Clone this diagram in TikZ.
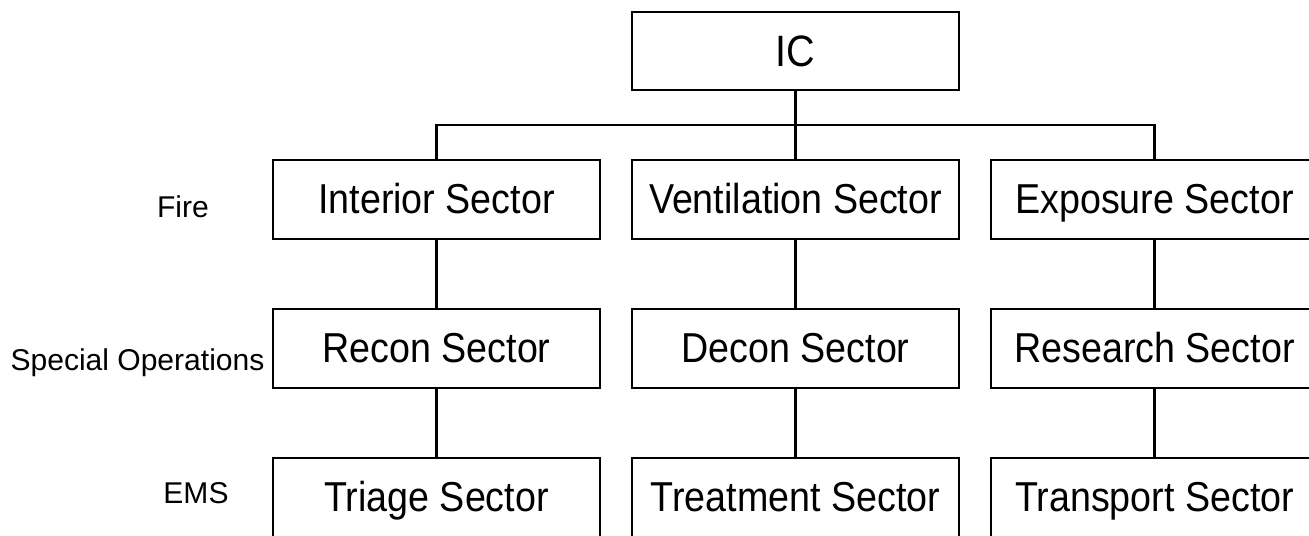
\documentclass[tikz,border=0pt]{standalone}
\usepackage{fontspec}
\setmainfont{Liberation Sans}
\newfontfamily\sectorfont[FakeStretch=0.9]{Liberation Sans}
\usetikzlibrary{positioning}

\begin{document}
\begin{tikzpicture}[
    node distance=1.4cm and 0.64cm,
    sector/.style={draw, line width=1.4pt, outer sep=0pt, minimum width=6.54cm, minimum height=1.58cm, inner sep=0pt,
                   text height=0.54cm, text depth=0pt, font=\sectorfont\fontsize{23.8}{28}\selectfont},
    level/.style={anchor=base, font=\fontsize{17.1}{20}\selectfont},
    link/.style={line width=1.3pt}
  ]
  \useasboundingbox (0,0) rectangle (26.18,-10.70);

  % Fire
  \node[sector] (interior) at (8.73,-3.99) {Interior Sector};
  \node[sector, right=of interior] (ventilation) {Ventilation Sector};
  \node[sector, right=of ventilation] (exposure) {Exposure Sector};

  % Special Operations
  \node[sector, below=of interior] (recon) {Recon Sector};
  \node[sector, below=of ventilation] (decon) {Decon Sector};
  \node[sector, below=of exposure] (research) {Research Sector};

  % EMS
  \node[sector, below=of recon] (triage) {Triage Sector};
  \node[sector, below=of decon] (treatment) {Treatment Sector};
  \node[sector, below=of research] (transport) {Transport Sector};

  % Command
  \node[sector, minimum height=1.56cm, text height=0.6cm, font=\sectorfont\fontsize{25}{30}\selectfont,
        above=of ventilation] (ic) {IC};

  % row labels
  \node[level] (fire) at (3.66,-4.34) {Fire};
  \node[level] (specops) at (2.75,-7.40) {Special Operations};
  \node[level] (ems) at (3.92,-10.06) {EMS};

  % connectors
  \draw[link] (ic.south) -- (ventilation.north);
  \draw[link] (interior.north) -- ++(0,0.7) -| (exposure.north);
  \draw[link] (interior.south) -- (recon.north);
  \draw[link] (recon.south) -- (triage.north);
  \draw[link] (ventilation.south) -- (decon.north);
  \draw[link] (decon.south) -- (treatment.north);
  \draw[link] (exposure.south) -- (research.north);
  \draw[link] (research.south) -- (transport.north);

\end{tikzpicture}
\end{document}
